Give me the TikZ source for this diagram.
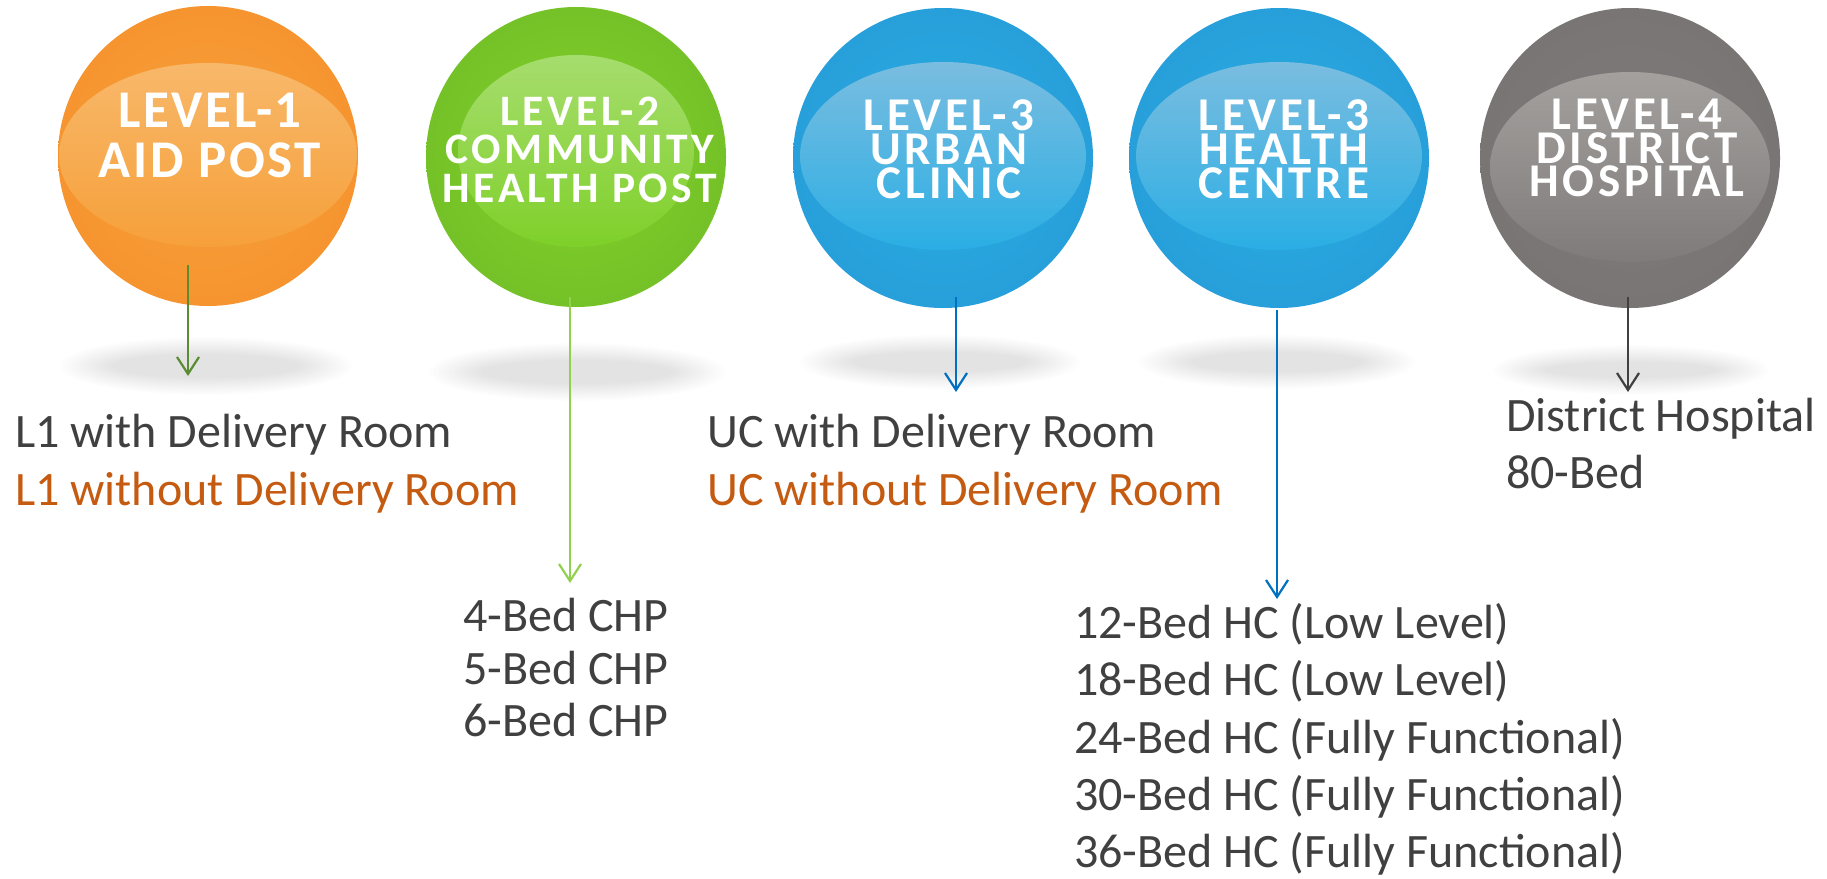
\documentclass[tikz,border=0pt]{standalone}
\usepackage{fontspec}
\setmainfont{Carlito}
\usetikzlibrary{arrows.meta}
\definecolor{txtgray}{HTML}{404040}
\definecolor{txtorange}{HTML}{C55A11}
\definecolor{orEdge}{HTML}{F5821F}
\definecolor{orCenter}{HTML}{F6A03A}
\definecolor{orLight}{HTML}{F8B86A}
\definecolor{grEdge}{HTML}{64AA24}
\definecolor{grCenter}{HTML}{7FD02A}
\definecolor{grLight}{HTML}{A6DD6E}
\definecolor{blEdge}{HTML}{2386C9}
\definecolor{blCenter}{HTML}{2AAEE4}
\definecolor{blLight}{HTML}{7ABDE0}
\definecolor{gyEdge}{HTML}{6F6B6A}
\definecolor{gyCenter}{HTML}{7F7B7A}
\definecolor{gyLight}{HTML}{A3A09E}
\definecolor{arOlive}{HTML}{5B8C32}
\definecolor{arGreen}{HTML}{92D050}
\definecolor{arBlue}{HTML}{0070C0}
\definecolor{arGray}{HTML}{404040}
\colorlet{balledge}{orEdge}
\colorlet{ballcenter}{orCenter}
\pgfdeclareradialshading[balledge,ballcenter]{ball}{\pgfpoint{0bp}{0bp}}{color(0bp)=(ballcenter); color(30bp)=(ballcenter!55!balledge); color(50bp)=(balledge)}
\newcommand\myball[9]{%
  \colorlet{balledge}{#4}\colorlet{ballcenter}{#5}%
  \node[circle, minimum size=300pt, inner sep=0pt, shading=ball] (#1) at (#2,#3) {};
  \begin{scope}
    \clip (#1.center) circle (150pt);
    \shade[top color=#6, bottom color=#5] (#2,#9) ellipse (#7pt and #8pt);
  \end{scope}
}
\newcommand\softblob[4]{%
  \foreach \k in {0,...,13}{%
    \pgfmathsetmacro\blobrx{#3-\k*4}%
    \pgfmathsetmacro\blobry{#4-\k*1.3}%
    \fill[black, opacity=0.009] (#1,#2) ellipse (\blobrx pt and \blobry pt);
  }%
}
\tikzset{
  lbl/.style={text=white, align=center, inner sep=0pt},
  body/.style={anchor=base west, inner sep=0pt, text=txtgray, font=\fontsize{48}{57}\selectfont},
  bodyor/.style={body, text=txtorange},
  arr/.style={line width=2.2pt, -{Straight Barb[length=17pt,width=22pt]}}
}
\begin{document}
\begin{tikzpicture}[x=1pt,y=-1pt]
\useasboundingbox (0,0) rectangle (1827,878);
\fill[white] (0,0) rectangle (1827,878);
% shadows
\softblob{206}{366}{146}{29}
\softblob{577}{372}{148}{29}
\softblob{940}{362}{140}{27}
\softblob{1277}{362}{138}{27}
\softblob{1631}{370}{138}{25}
% balls
\myball{c1}{208}{156}{orEdge}{orCenter}{orLight}{149}{92}{155}
\myball{c2}{576}{157}{grEdge}{grCenter}{grLight}{118}{96}{151}
\myball{c3}{943}{158}{blEdge}{blCenter}{blLight}{143}{94}{156}
\myball{c4}{1279}{158}{blEdge}{blCenter}{blLight}{143}{94}{156}
\myball{c5}{1630}{158}{gyEdge}{gyCenter}{gyLight}{140}{95}{167}
% labels
\node[lbl, font=\fontsize{53}{50}\selectfont\bfseries\addfontfeature{LetterSpace=5}] (t1) at (210,135) {LEVEL-1\\AID POST};
\node[lbl, font=\fontsize{43.5}{38.5}\selectfont\bfseries\addfontfeature{LetterSpace=8}] (t2) at (580,149.5) {LEVEL-2\\COMMUNITY\\HEALTH POST};
\node[lbl, font=\fontsize{47}{34}\selectfont\bfseries\addfontfeature{LetterSpace=8}] (t3) at (949,149) {LEVEL-3\\URBAN\\CLINIC};
\node[lbl, font=\fontsize{47}{34}\selectfont\bfseries\addfontfeature{LetterSpace=8}] (t4) at (1284,149) {LEVEL-3\\HEALTH\\CENTRE};
\node[lbl, font=\fontsize{47}{33.5}\selectfont\bfseries\addfontfeature{LetterSpace=8}] (t5) at (1637,148) {LEVEL-4\\DISTRICT\\HOSPITAL};
% texts
\node[body] (l1a) at (15,447) {L1 with Delivery Room};
\node[bodyor] (l1b) at (15,505) {L1 without Delivery Room};
\node[body] (l2a) at (463,631) {4-Bed CHP};
\node[body] (l2b) at (463,684) {5-Bed CHP};
\node[body] (l2c) at (463,736) {6-Bed CHP};
\node[body] (l3a) at (707,447) {UC with Delivery Room};
\node[bodyor] (l3b) at (707,505) {UC without Delivery Room};
\node[body] (l4a) at (1074,638) {12-Bed HC (Low Level)};
\node[body] (l4b) at (1074,695) {18-Bed HC (Low Level)};
\node[body] (l4c) at (1074,753) {24-Bed HC (Fully Functional)};
\node[body] (l4d) at (1074,810) {30-Bed HC (Fully Functional)};
\node[body] (l4e) at (1074,867) {36-Bed HC (Fully Functional)};
\node[body] (l5a) at (1506,431) {District Hospital};
\node[body] (l5b) at (1506,488) {80-Bed};
% arrows
\coordinate (a1s) at (188,265); \coordinate (a1e) at (188,376);
\coordinate (a2s) at (570,297); \coordinate (a2e) at (570,583);
\coordinate (a3s) at (956,297); \coordinate (a3e) at (956,392);
\coordinate (a4s) at (1277,310); \coordinate (a4e) at (1277,599);
\coordinate (a5s) at (1628,297); \coordinate (a5e) at (1628,392);
\draw[arr, arOlive] (a1s) -- (a1e);
\draw[arr, arGreen] (a2s) -- (a2e);
\draw[arr, arBlue] (a3s) -- (a3e);
\draw[arr, arBlue] (a4s) -- (a4e);
\draw[arr, arGray] (a5s) -- (a5e);
\end{tikzpicture}
\end{document}
